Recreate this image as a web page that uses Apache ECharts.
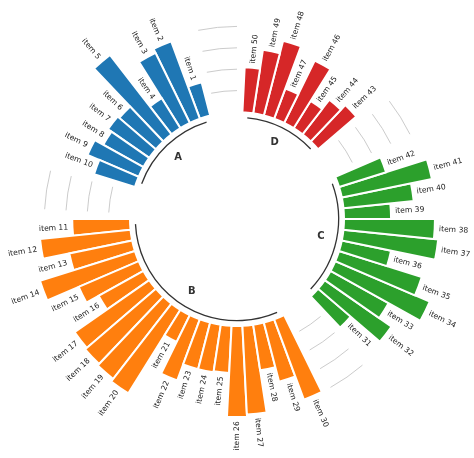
<!DOCTYPE html>
<html><head><meta charset="utf-8">
<script src="https://cdn.jsdelivr.net/npm/echarts@6/dist/echarts.min.js"></script>
<style>html,body{margin:0;padding:0;background:#fff}#c{width:474px;height:458px}</style>
</head><body><div id="c"></div>
<script>
const groupNames = ['A', 'B', 'C', 'D'];
const groupColors = ['#1f77b4', '#ff7f0e', '#2ca02c', '#d62728'];
const itemsA = ['item 1','item 2','item 3','item 4','item 5','item 6','item 7','item 8','item 9','item 10'];
const itemsB = ['item 11','item 12','item 13','item 14','item 15','item 16','item 17','item 18','item 19','item 20',
                'item 21','item 22','item 23','item 24','item 25','item 26','item 27','item 28','item 29','item 30'];
const itemsC = ['item 31','item 32','item 33','item 34','item 35','item 36','item 37','item 38','item 39','item 40','item 41','item 42'];
const itemsD = ['item 43','item 44','item 45','item 46','item 47','item 48','item 49','item 50'];
const valuesA = [32, 77, 73, 33, 94, 45, 47, 43, 52, 40];
const valuesB = [54, 85, 60, 93, 61, 48, 85, 87, 89, 92, 28, 61, 45, 45, 44, 85, 83, 43, 57, 80];
const valuesC = [40, 76, 62, 96, 81, 47, 89, 85, 44, 66, 86, 46];
const valuesD = [47, 41, 30, 65, 30, 72, 60, 42];
const gridValues = [20, 40, 60, 80];
const PAD = 3;
const groupLineValue = -5;
const groupLabelValue = -20;
const labelPadding = 4;

const groupItems = [itemsA, itemsB, itemsC, itemsD];
const groupValues = [valuesA, valuesB, valuesC, valuesD];

const slots = [], barData = [], labelData = [], groupArcData = [], gapArcData = [];
let idx = 0;
groupNames.forEach((g, gi) => {
  const gapStart = idx;
  for (let p = 0; p < PAD; p++) { slots.push('gap' + gi + '_' + p); barData.push('-'); idx++; }
  gridValues.forEach(v => gapArcData.push([v, gapStart, gapStart + PAD - 1]));
  const first = idx;
  groupItems[gi].forEach((name, k) => {
    slots.push(name);
    barData.push({ value: groupValues[gi][k], itemStyle: { color: groupColors[gi] } });
    labelData.push([groupValues[gi][k] + labelPadding, idx]);
    idx++;
  });
  groupArcData.push([groupLineValue, first, idx - 1]);
});
const labelNames = [].concat(itemsA, itemsB, itemsC, itemsD);

function arcFrom(api, rv, i0, i1) {
  const c = api.coord([-100, i0]);
  const p0 = api.coord([rv, i0]), p1 = api.coord([rv, i1]);
  const r = Math.hypot(p0[0] - c[0], p0[1] - c[1]);
  const a0 = Math.atan2(p0[1] - c[1], p0[0] - c[0]);
  const a1 = Math.atan2(p1[1] - c[1], p1[0] - c[0]);
  return { c, r, a0, a1 };
}

const chart = echarts.init(document.getElementById('c'));
chart.setOption({
  animation: false,
  backgroundColor: '#fff',
  polar: { center: [237, 219], radius: 214 },
  angleAxis: {
    type: 'category', data: slots, startAngle: 90 - 180 / slots.length, clockwise: false,
    axisLine: { show: false }, axisTick: { show: false }, axisLabel: { show: false }, splitLine: { show: false }
  },
  radiusAxis: {
    type: 'value', min: -100, max: 100,
    axisLine: { show: false }, axisTick: { show: false }, axisLabel: { show: false }, splitLine: { show: false }
  },
  series: [
    {
      type: 'bar', coordinateSystem: 'polar', data: barData, barCategoryGap: '0%', silent: true,
      itemStyle: { borderColor: '#fff', borderWidth: 2 }
    },
    {
      type: 'custom', coordinateSystem: 'polar', data: gapArcData, silent: true,
      renderItem: (params, api) => {
        const a = arcFrom(api, api.value(0), api.value(1), api.value(2));
        return { type: 'arc', shape: { cx: a.c[0], cy: a.c[1], r: a.r, startAngle: a.a0, endAngle: a.a1, clockwise: false },
                 style: { stroke: '#bebebe', lineWidth: 0.8, fill: null } };
      }
    },
    {
      type: 'custom', coordinateSystem: 'polar', data: groupArcData, silent: true,
      renderItem: (params, api) => {
        const i0 = api.value(1), i1 = api.value(2);
        const a = arcFrom(api, api.value(0), i0, i1);
        const b = arcFrom(api, groupLabelValue, i0, i1);
        let delta = a.a0 - a.a1; while (delta < 0) delta += 2 * Math.PI;
        const mid = a.a0 - delta / 2;
        return { type: 'group', children: [
          { type: 'arc', shape: { cx: a.c[0], cy: a.c[1], r: a.r, startAngle: a.a0, endAngle: a.a1, clockwise: false },
            style: { stroke: '#333333', lineWidth: 1.3, fill: null } },
          { type: 'text', x: a.c[0] + b.r * Math.cos(mid), y: a.c[1] + b.r * Math.sin(mid),
            style: { text: groupNames[params.dataIndex], align: 'center', verticalAlign: 'middle',
                     fontFamily: 'DejaVu Sans', fontWeight: 'bold', fontSize: 10, fill: '#333333' } }
        ] };
      }
    },
    {
      type: 'custom', coordinateSystem: 'polar', data: labelData, silent: true,
      renderItem: (params, api) => {
        const v = api.value(0), ai = api.value(1);
        const c = api.coord([-100, ai]);
        const p = api.coord([v, ai]);
        let deg = Math.atan2(-(p[1] - c[1]), p[0] - c[0]) * 180 / Math.PI;
        if (deg < 0) deg += 360;
        let align = 'left', rot = deg;
        if (deg >= 90 - 1e-6 && deg <= 270 + 1e-6) { align = 'right'; rot = deg + 180; }
        return { type: 'text', x: p[0], y: p[1], rotation: rot * Math.PI / 180,
                 style: { text: labelNames[params.dataIndex], align: align, verticalAlign: 'middle',
                          fontFamily: 'DejaVu Sans', fontSize: 7.6, fill: '#222' } };
      }
    }
  ]
});
</script></body></html>
